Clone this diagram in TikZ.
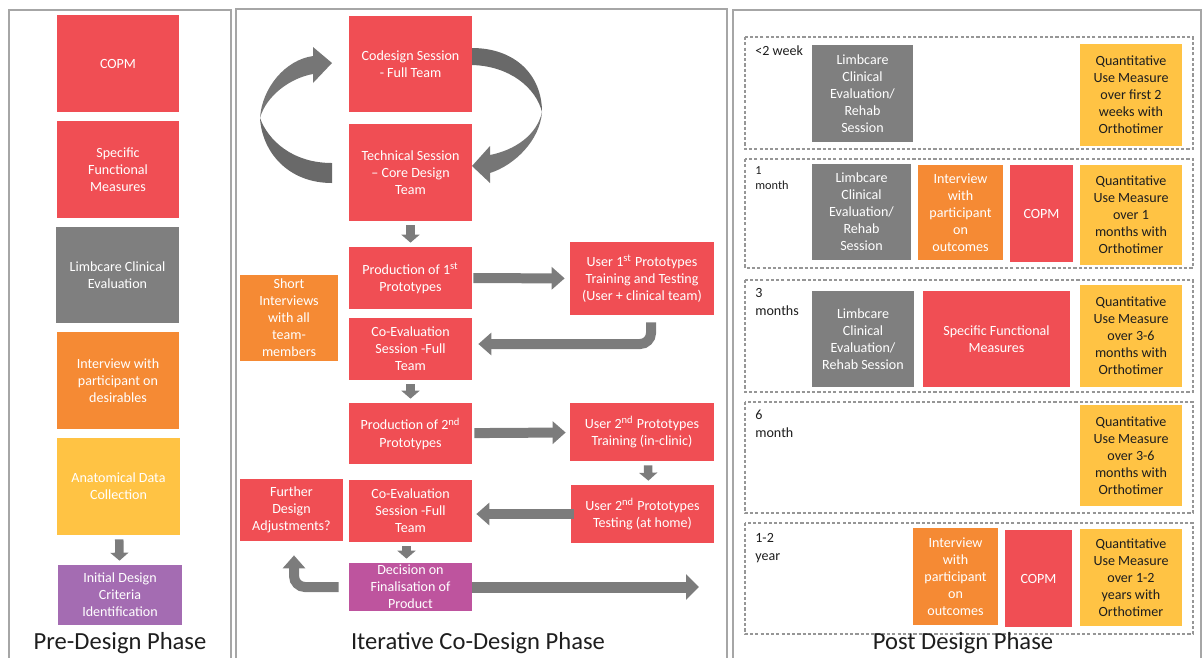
\documentclass[tikz,border=0pt]{standalone}
\usepackage{fontspec}
\setmainfont{Carlito}
\usepackage{xcolor}
\usepackage{tikz}
\usetikzlibrary{arrows.meta,positioning,calc}

\definecolor{cored}{RGB}{240,78,84}
\definecolor{cogray}{RGB}{127,127,127}
\definecolor{coorange}{RGB}{245,138,52}
\definecolor{coyellow}{RGB}{255,195,68}
\definecolor{copurple}{RGB}{164,108,178}
\definecolor{comagenta}{RGB}{190,84,158}
\definecolor{arrgray}{RGB}{124,124,124}
\definecolor{framegray}{RGB}{166,166,166}
\definecolor{dashgray}{RGB}{150,150,150}
\definecolor{cotext}{RGB}{30,30,30}

\begin{document}
\begin{tikzpicture}[
    x=0.02cm, y=-0.02cm,
    box/.style={inner sep=1pt, align=center, text=white, font=\fontsize{8}{9.7}\selectfont},
    redbox/.style={box, fill=cored},
    graybox/.style={box, fill=cogray},
    orangebox/.style={box, fill=coorange},
    yellowbox/.style={box, fill=coyellow},
    quantbox/.style={box, fill=coyellow, text=cotext, minimum width=2.04cm},
    panel/.style={draw=framegray, line width=1.1pt},
    period/.style={draw=dashgray, line width=0.8pt, dash pattern=on 1.8pt off 1.2pt},
    when/.style={anchor=north west, align=left, inner sep=0pt, text=cotext, font=\fontsize{8}{10}\selectfont},
    phase/.style={text=cotext, font=\fontsize{14}{16}\selectfont},
    drop/.style={draw=arrgray, line width=0.17cm, shorten <=0.08cm, shorten >=0.08cm, -{Triangle[length=0.16cm,width=0.36cm]}},
    flow/.style={draw=arrgray, line width=0.2cm, -{Triangle[length=0.26cm,width=0.44cm]}},
    bigflow/.style={draw=arrgray, line width=0.22cm, -{Triangle[length=0.26cm,width=0.5cm]}}
]
\useasboundingbox (0,0) rectangle (1203,657);

\draw[panel] (9,10) rectangle (231,680);
\draw[panel] (236,9) rectangle (727,680);
\draw[panel] (733,10) rectangle (1201,680);

% pre-design
\node[redbox, minimum width=2.44cm, minimum height=1.94cm] (pcopm) at (118,63.5) {COPM};
\node[redbox, minimum width=2.44cm, minimum height=1.94cm] (pfunc) at (118,169.5) {Specific\\Functional\\Measures};
\node[graybox, minimum width=2.46cm, minimum height=1.92cm] (plimb) at (117.5,275) {Limbcare Clinical\\Evaluation};
\node[orangebox, minimum width=2.44cm, minimum height=1.94cm] (pintv) at (118,380.5) {Interview with\\participant on\\desirables};
\node[yellowbox, minimum width=2.46cm, minimum height=1.94cm] (panat) at (118.5,486.5) {Anatomical Data\\Collection};
\node[box, fill=copurple, minimum width=2.48cm, minimum height=1.2cm] (pcrit) at (120,595) {Initial Design\\Criteria\\Identification};
\draw[drop] (panat) -- (pcrit);
\node[phase] (prettl) at (120,643) {Pre-Design Phase};

% co-design loop
\node[redbox, minimum width=2.46cm, minimum height=1.92cm] (codes) at (410.5,64) {Codesign Session\\- Full Team};
\node[redbox, minimum width=2.46cm, minimum height=1.94cm] (tech) at (410.5,172.5) {Technical Session\\-- Core Design\\Team};
\fill[arrgray!85!black] (332,183) .. controls (288,183) and (262,152) .. (260,118)
    .. controls (268,140) and (292,163) .. (332,163) -- cycle;
\fill[arrgray!105] (260,118) .. controls (262,88) and (285,60) .. (313,56)
    -- (313,47) -- (332,63) -- (313,83) -- (313,74)
    .. controls (290,78) and (266,96) .. (260,118) -- cycle;
\fill[arrgray!85!black] (472,48) .. controls (515,48) and (542,75) .. (542,112)
    .. controls (536,88) and (510,66) .. (472,65) -- cycle;
\fill[arrgray!105] (542,112) .. controls (540,140) and (515,165) .. (490,173)
    -- (490,183) -- (472,166) -- (490,146) -- (490,155)
    .. controls (515,150) and (537,135) .. (542,112) -- cycle;

\node[redbox, minimum width=2.46cm, minimum height=1.24cm] (prod1) at (410.5,278) {Production of 1\textsuperscript{st}\\Prototypes};
\node[redbox, minimum width=2.88cm, minimum height=1.46cm] (user1) at (642,278.5) {User 1\textsuperscript{st} Prototypes\\Training and Testing\\(User + clinical team)};
\node[redbox, minimum width=2.46cm, minimum height=1.24cm] (coev1) at (410.5,349) {Co-Evaluation\\Session -Full\\Team};
\node[orangebox, minimum width=1.96cm, minimum height=1.72cm] (short) at (289,318) {Short\\Interviews\\with all\\team-\\members};
\node[redbox, minimum width=2.46cm, minimum height=1.22cm] (prod2) at (410.5,433.5) {Production of 2\textsuperscript{nd}\\Prototypes};
\node[redbox, minimum width=2.88cm, minimum height=1.16cm] (train2) at (642,432) {User 2\textsuperscript{nd} Prototypes\\Training (in-clinic)};
\node[redbox, minimum width=2.86cm, minimum height=1.16cm] (test2) at (642.5,514) {User 2\textsuperscript{nd} Prototypes\\Testing (at home)};
\node[redbox, minimum width=2.46cm, minimum height=1.24cm] (coev2) at (410.5,511) {Co-Evaluation\\Session -Full\\Team};
\node[redbox, minimum width=2.06cm, minimum height=1.24cm] (further) at (291.5,510) {Further\\Design\\Adjustments?};
\node[box, fill=comagenta, minimum width=2.46cm, minimum height=0.96cm] (decide) at (410.5,587) {Decision on\\Finalisation of\\Product};
\coordinate (exit) at (699,587);

\draw[drop] (tech) -- (prod1);
\draw[flow, shorten <=0.02cm, shorten >=0.1cm] (prod1) -- (user1);
\draw[flow, rounded corners=0.22cm, shorten <=0.14cm, shorten >=0.12cm] ([xshift=0.18cm]user1.south) |- ([yshift=0.1cm]coev1.east);
\draw[drop] (coev1) -- (prod2);
\draw[flow, shorten <=0.04cm, shorten >=0.08cm] (prod2) -- (train2);
\draw[drop] ([xshift=0.12cm]train2.south) -- ([xshift=0.12cm]test2.north);
\draw[flow, shorten <=-0.06cm, shorten >=0.08cm] (test2.west) -- (test2.west -| coev2.east);
\draw[drop] ([xshift=-0.08cm]coev2.south) -- ([xshift=-0.08cm]decide.north);
\draw[flow, rounded corners=0.22cm, shorten <=0.2cm, shorten >=0.28cm] (decide.west) -| ([xshift=0.05cm]further.south);
\draw[bigflow] (decide.east) -- (exit);
\node[phase] (codttl) at (478,643) {Iterative Co-Design Phase};

% post-design periods
\draw[period] (745,37) rectangle (1193,149);
\draw[period] (745,159) rectangle (1193,268);
\draw[period] (745,280) rectangle (1193,392);
\draw[period] (745,402) rectangle (1193,513);
\draw[period] (745,523) rectangle (1193,634);

\node[when] (w1) at (755,45) {<2 week};
\node[when, font=\fontsize{7}{8.6}\selectfont] (w2) at (755,166) {1\\month};
\node[when] (w3) at (755,288) {3\\months};
\node[when] (w4) at (755,410) {6\\month};
\node[when] (w5) at (755,533) {1-2\\year};

\node[graybox, minimum width=2.02cm, minimum height=1.94cm] (limb1) at (862.5,93.5) {Limbcare\\Clinical\\Evaluation/\\Rehab\\Session};
\node[quantbox, minimum height=2.04cm] (quant1) at (1131,95) {Quantitative\\Use Measure\\over first 2\\weeks with\\Orthotimer};

\node[graybox, minimum width=1.98cm, minimum height=1.92cm] (limb2) at (861.5,212) {Limbcare\\Clinical\\Evaluation/\\Rehab\\Session};
\node[orangebox, minimum width=1.7cm, minimum height=1.9cm] (intv2) at (960.5,212.5) {Interview\\with\\participant\\on\\outcomes};
\node[redbox, minimum width=1.26cm, minimum height=1.94cm] (copm2) at (1041.5,213.5) {COPM};
\node[quantbox, minimum height=2.0cm] (quant2) at (1131,215) {Quantitative\\Use Measure\\over 1\\months with\\Orthotimer};

\node[graybox, minimum width=2.04cm, minimum height=1.92cm] (limb3) at (863,339) {Limbcare\\Clinical\\Evaluation/\\Rehab Session};
\node[redbox, minimum width=2.94cm, minimum height=1.92cm] (func3) at (996.5,339) {Specific Functional\\Measures};
\node[quantbox, minimum height=2.04cm] (quant3) at (1131,336) {Quantitative\\Use Measure\\over 3-6\\months with\\Orthotimer};

\node[quantbox, minimum height=2.02cm] (quant4) at (1131,455.5) {Quantitative\\Use Measure\\over 3-6\\months with\\Orthotimer};

\node[orangebox, minimum width=1.7cm, minimum height=1.94cm] (intv5) at (955.5,576.5) {Interview\\with\\participant\\on\\outcomes};
\node[redbox, minimum width=1.34cm, minimum height=1.94cm] (copm5) at (1038.5,578.5) {COPM};
\node[quantbox, minimum height=1.94cm] (quant5) at (1131,577.5) {Quantitative\\Use Measure\\over 1-2\\years with\\Orthotimer};

\node[phase] (postttl) at (963,643) {Post Design Phase};
\end{tikzpicture}
\end{document}
